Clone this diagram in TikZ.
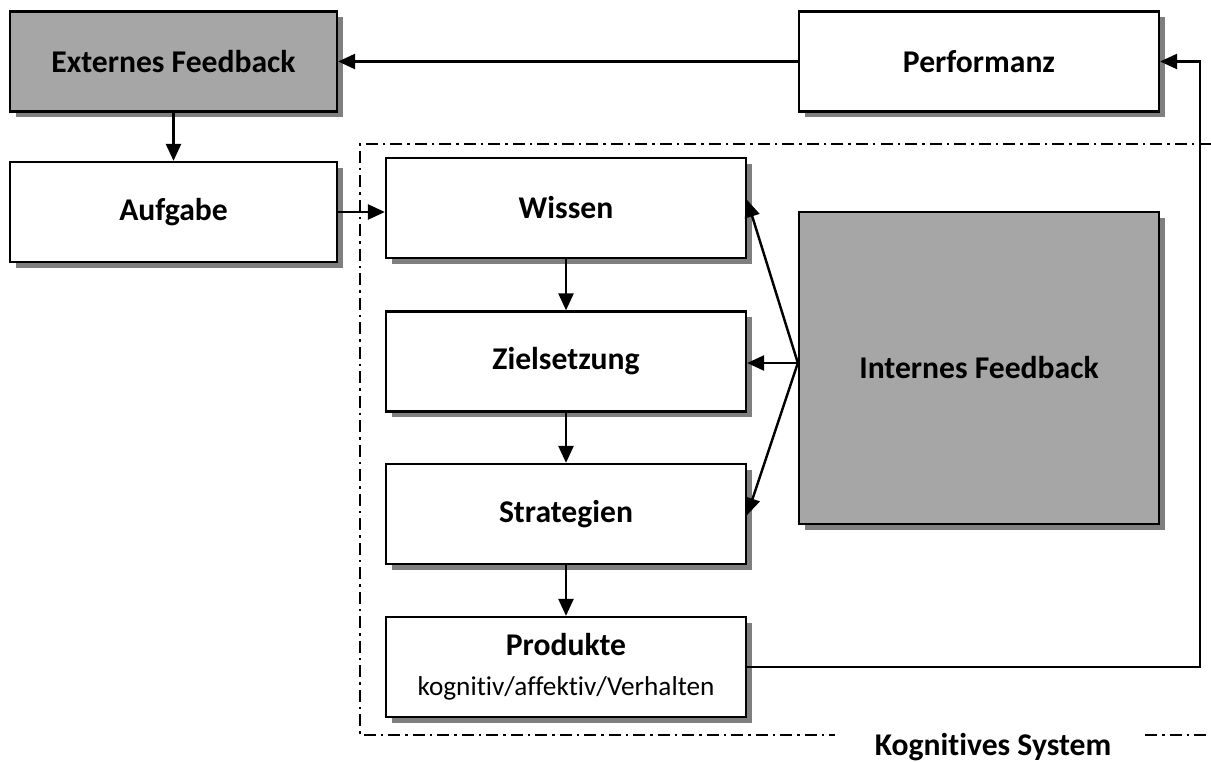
\documentclass[tikz,border=0pt]{standalone}
\usepackage{fontspec}
\setmainfont[Ligatures=NoCommon]{Carlito}
\usetikzlibrary{arrows.meta, positioning, shadows}
\definecolor{boxgrey}{HTML}{A6A6A6}
\definecolor{shadowgrey}{HTML}{7F7F7F}

\begin{document}
\begin{tikzpicture}[
		block/.style={draw, line width=1.3pt, fill=white, minimum width=7.2cm, minimum height=2cm, align=center, font=\fontsize{18}{22}\selectfont\bfseries, drop shadow={shadow xshift=0.11cm, shadow yshift=-0.11cm, fill=shadowgrey, opacity=1}},
		greyblock/.style={block, fill=boxgrey},
		link/.style={line width=1.4pt, -{Triangle[length=0.34cm, width=0.3cm]}},
		frameline/.style={line width=0.9pt, dash pattern=on 0.24cm off 0.1cm on 0.05cm off 0.1cm}
	]
	\useasboundingbox (0,0) rectangle (24.22,-15.24);
	% outer boxes
	\node[greyblock, minimum width=6.54cm] (extfb) at (3.47,-1.23) {Externes Feedback};
	\node[block] (perf) at (19.58,-1.23) {Performanz};
	\node[block, minimum width=6.54cm] (task) at (3.47,-4.24) {Aufgabe};
	% cognitive system
	\node[block] (know) at (11.32,-4.16) {Wissen};
	\node[block] (goal) at (11.32,-7.23) {Zielsetzung};
	\node[block] (strat) at (11.32,-10.28) {Strategien};
	\node[block] (prod) at (11.32,-13.34) {Produkte\\[1pt]{\mdseries\fontsize{15.5}{18}\selectfont kognitiv/affektiv/Verhalten}};
	\node[greyblock, minimum height=6.24cm] (intfb) at (19.58,-7.36) {Internes Feedback};
	\node[font=\fontsize{18}{22}\selectfont\bfseries] (sys) at (19.86,-14.94) {Kognitives System};
	% system frame
	\draw[frameline] (24.22,-2.88) -- (7.2,-2.88) -- (7.2,-14.7) -- (16.7,-14.7);
	\draw[frameline] (22.9,-14.7) -- (24.22,-14.7);
	% arrows
	\draw[link] (perf) -- (extfb);
	\draw[link] (extfb) -- (task);
	\draw[link] (task.east) -- (task.east -| know.west);
	\draw[link] (know) -- (goal);
	\draw[link] (goal) -- (strat);
	\draw[link] (strat) -- (prod);
	\coordinate (fbout) at ([yshift=0.1cm]intfb.west);
	\draw[link] (fbout) -- ([yshift=0.16cm]know.east);
	\draw[link] (fbout) -- (fbout -| goal.east);
	\draw[link] (fbout) -- ([yshift=-0.02cm]strat.east);
	\draw[link] (prod.east) -| ([xshift=0.8cm]perf.east) -- (perf.east);
\end{tikzpicture}
\end{document}
